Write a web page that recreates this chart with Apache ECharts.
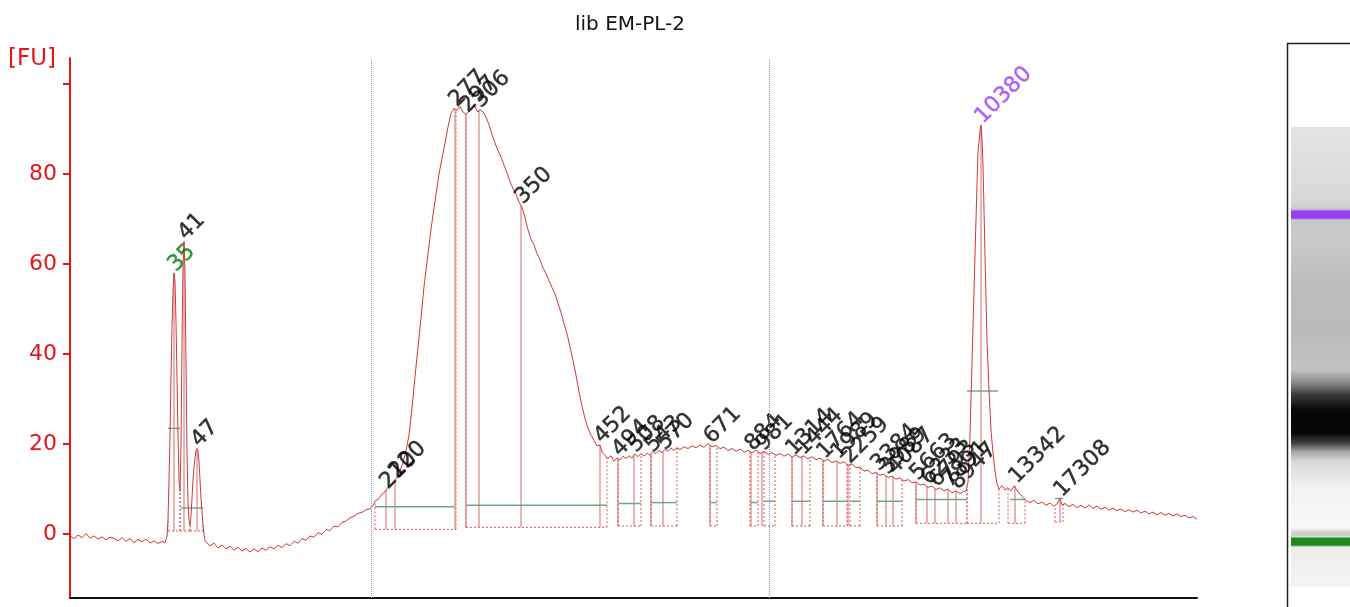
<!DOCTYPE html>
<html><head><meta charset="utf-8">
<script src="https://cdn.jsdelivr.net/npm/echarts@6/dist/echarts.min.js"></script>
<style>html,body{margin:0;padding:0;background:#fff}#c{width:1350px;height:607px}</style>
</head><body><div id="c"></div>
<script>
// ---- data (time axis in arbitrary run units, FU values) ----
const traceTime = [0,4,8,12,16,20,24,28,32,36,40,44,48,52,56,60,64,68,72,76,80,84,88,92,95,97,
98,99,100,101,102,103,104,105,106,107,108,109,110,111,112,113,114,115,116,117,118,119,120,121,122,123,124,125,126,127,128,129,130,131,132,133,134,135,137,
140,144,148,152,156,160,164,168,172,176,180,184,188,192,196,200,204,208,212,216,220,224,228,232,236,240,244,248,252,256,260,264,268,272,276,280,284,288,292,296,300,
303,306,309,312,315,318,321,324,327,330,333,336,339,342,345,348,351,354,357,360,363,366,369,372,375,378,381,384,387,390,393,396,399,402,404,406,408,410,413,416,419,422,425,428,431,434,437,440,443,446,449,452,455,458,461,464,467,470,473,476,479,482,485,488,491,494,497,500,503,506,509,512,515,518,521,524,527,530,532,535,538,541,544,547,550,553,556,559,562,565,568,571,574,577,580,583,586,589,592,595,598,601,604,607,610,
614,618,622,626,630,634,638,642,646,650,654,658,662,666,670,674,678,682,686,690,694,698,702,706,710,714,718,722,726,730,734,738,742,746,750,754,758,762,766,770,774,778,782,786,790,794,798,802,806,810,814,818,822,826,830,834,838,842,846,850,854,858,862,866,870,874,878,882,886,890,893,896,898,
900,902,904,906,908,910,911,912,913,915,917,919,921,923,925,927,929,932,935,938,941,944,946,948,951,954,957,960,964,968,972,976,980,984,987,990,992,995,999,1003,1007,1011,1015,1019,1023,1027,1031,1035,1039,1043,1047,1051,1055,1059,1063,1067,1071,1075,1079,1083,1087,1091,1095,1099,1103,1107,1111,1115,1119,1123,1127];
const traceFU = [-0.3,-1.0,-0.2,-0.8,0.1,-0.9,-0.4,-1.1,-0.6,-1.3,-0.7,-0.9,-1.5,-0.8,-1.6,-1.0,-1.9,-1.2,-1.7,-1.1,-2.0,-1.5,-2.1,-1.6,-1.9,-0.5,
3,12,22,35,46,54,58,56,47,35,22,12,9.5,20,42,60,65,58,38,18,7,3,2,4,8,12,15,17,18.5,19,18.5,16,12,8,5,2,0,-1.5,-1.2,
-2.6,-2.0,-3.1,-2.4,-3.3,-2.7,-3.6,-2.9,-3.8,-3.2,-4.0,-3.3,-3.9,-3.1,-3.6,-2.8,-3.3,-2.5,-3.0,-2.1,-2.6,-1.6,-2.0,-1.0,-1.4,-0.4,-0.7,0.3,0.0,1.0,0.8,1.8,1.6,2.6,2.9,3.6,4.0,4.6,4.8,5.4,5.6,
6.4,7.5,7.9,8.9,9.4,10.4,10.9,11.8,12.6,14.2,15.8,18.5,22,28,35,41.5,48,55,60.5,66,71,75.5,80,83.5,86.8,90.5,93.5,94.6,94.2,95.0,93.8,93.3,94.0,94.6,95.5,94.5,93.8,94.4,93.8,92.6,91.0,88.8,86.9,85.2,83.8,82.0,80.3,78.3,76.8,75.6,73.8,72.6,70.3,67.6,65.5,64.3,62.3,61.0,59.2,57.9,56.3,54.8,53.4,51.3,49.2,46.8,44.5,41.6,38.6,35.3,31.6,28.4,25.7,23.5,22.0,20.8,19.6,19.8,18.2,17.5,16.8,17.4,16.2,16.9,16.5,17.3,16.8,17.4,16.9,17.8,17.2,17.9,17.3,18.0,17.5,18.4,17.9,18.6,18.1,18.8,18.4,19.1,18.6,19.2,18.8,
19.4,19.0,19.6,19.2,19.8,19.3,20.1,19.4,19.7,19.0,19.3,18.6,19.0,18.4,18.9,18.2,18.6,18.0,18.7,17.9,18.4,17.7,18.1,17.5,17.9,17.3,17.8,17.1,17.6,17.0,17.4,16.7,17.2,16.5,16.9,16.2,16.6,15.9,16.3,15.7,16.1,15.3,15.6,14.8,14.9,14.0,14.2,13.4,13.7,13.1,13.3,12.6,12.9,12.2,12.5,11.8,12.1,11.4,11.6,10.9,11.1,10.4,10.7,9.9,10.3,9.6,10.0,9.2,9.6,9.0,9.4,9.6,11.5,
22,38,54,70,85,89.5,90.9,88,82,62,43,32,23,18,14,11.2,10.0,10.8,9.8,10.3,9.6,10.7,10.9,9.4,8.7,7.9,7.3,7.0,7.5,6.7,7.1,6.4,6.9,6.2,6.7,7.9,6.4,6.8,6.1,6.6,5.9,6.4,5.8,6.5,5.7,6.2,5.5,6.0,5.3,5.8,5.2,5.6,5.0,5.4,4.9,5.3,4.7,5.1,4.5,4.9,4.3,4.8,4.2,4.6,4.0,4.5,3.9,4.2,3.6,3.9,3.3];

const peakSize = ['35','41','47','210','220','277','297','306','350','452','494','508','543','570','671','884','981','1314','1444','1764','1989','2259','3384','3989','4087','5663','6233','6793','7891','8947','10380','13342','17308'];
const peakTime = [104,114,127,316,325,385,396,409,451,530,548,564,581,593,640,681,692,722,732,753,767,778,807,816,823,846,857,865,878,886,911,945,990];
const lowerMarker = '35';
const upperMarker = '10380';

const regionStart = [98,110,120,305,396,548,581,640,680,694,722,753,780,807,846,897,938,985];
const regionEnd   = [110,120,133,386,537,571,607,647,688,705,740,777,790,832,897,929,955,993];
const regionBase  = [0.7,0.7,0.7,1.05,1.5,1.8,1.8,1.8,1.8,1.8,1.8,1.8,1.8,1.8,2.4,2.4,2.4,2.7];

const levelStart = [98,111,305,396,548,581,640,680,694,722,753,780,807,846,897,940,985];
const levelEnd   = [110,133,385,537,571,607,647,688,705,740,777,790,832,897,928,955,993];
const levelFU    = [23.5,5.8,6.1,6.4,6.8,7.0,7.0,7.0,7.3,7.3,7.3,7.3,7.3,7.7,31.8,7.7,7.9];

const gridTimes = [301, 699];
const yLabelValues = [0,20,40,60,80];
const yTickValues = [0,20,40,60,80,100];

// ---- helpers ----
function traceAt(t){
  if (t <= traceTime[0]) return traceFU[0];
  for (let i=1;i<traceTime.length;i++){
    if (t <= traceTime[i]){
      const a=traceTime[i-1], b=traceTime[i];
      return traceFU[i-1] + (traceFU[i]-traceFU[i-1])*(t-a)/(b-a);
    }
  }
  return traceFU[traceFU.length-1];
}
function peakHeight(t){
  let m = traceAt(t);
  for (let i=0;i<traceTime.length;i++){
    if (Math.abs(traceTime[i]-t) <= 1.5) m = Math.max(m, traceFU[i]);
  }
  return m;
}
function baseFor(t){
  for (let i=0;i<regionStart.length;i++){
    if (t>=regionStart[i] && t<=regionEnd[i]) return regionBase[i];
  }
  return 1.8;
}

const FONT = 'DejaVu Sans';
const RED_AXIS = '#e8141b';
const TRACE = '#cc3a3a';

const chart = echarts.init(document.getElementById('c'), null, {renderer:'canvas'});

const gelStops = [
  [127,'#e4e4e4'],[150,'#e0e0e0'],[200,'#d8d8d8'],[208,'#cfcfcf'],[210,'#b9a6d6'],[211,'#9a3ff0'],[218,'#9a3ff0'],[220,'#c8c8c8'],
  [240,'#cacaca'],[280,'#bdbdbd'],[330,'#bababa'],[370,'#c2c2c2'],[382,'#8c8c8c'],[395,'#3a3a3a'],[410,'#080808'],[433,'#050505'],
  [443,'#404040'],[452,'#a8a8a8'],[462,'#dadada'],[490,'#f2f2f2'],[528,'#f8f8f8'],[532,'#d6d6d6'],[535,'#c8c8c8'],[537,'#e0e0e0'],
  [538,'#1e8a1e'],[545,'#1e8a1e'],[547,'#ececec'],[587,'#f4f4f4']
].map(s=>({offset:(s[0]-127)/460, color:s[1]}));

const option = {
  animation:false,
  backgroundColor:'#ffffff',
  title:{text:'lib EM-PL-2', left:625, top:10, textAlign:'center',
    textStyle:{fontFamily:FONT, fontSize:20, fontWeight:'normal', color:'#111'}},
  grid:{left:70, right:153, top:58, bottom:9, containLabel:false},
  xAxis:{type:'value', min:0, max:1127,
    axisLine:{show:true, onZero:false, lineStyle:{color:'#111', width:2}},
    axisTick:{show:false}, axisLabel:{show:false}, splitLine:{show:false}},
  yAxis:{type:'value', min:-14.2, max:105.8,
    axisLine:{show:true, onZero:false, lineStyle:{color:RED_AXIS, width:2}},
    axisTick:{show:true, length:7, lineStyle:{color:RED_AXIS, width:2}, customValues:yTickValues},
    axisLabel:{color:RED_AXIS, fontSize:22, fontFamily:FONT, margin:13, customValues:yLabelValues},
    splitLine:{show:false}},
  graphic:[
    {type:'text', left:8, top:48, style:{text:'[FU]', fill:RED_AXIS, font:'23px "DejaVu Sans"'}},
    {type:'rect', shape:{x:1291, y:127, width:59, height:460},
      style:{fill:{type:'linear', x:0, y:0, x2:0, y2:1, colorStops:gelStops}}},
    {type:'line', shape:{x1:1287.5, y1:43, x2:1287.5, y2:607}, style:{stroke:'#222', lineWidth:1.5}},
    {type:'line', shape:{x1:1287, y1:43.5, x2:1350, y2:43.5}, style:{stroke:'#222', lineWidth:1.5}}
  ],
  series:[
    {type:'custom', name:'regions', silent:true, z:1,
      data: regionStart.map((s,i)=>[s, regionEnd[i], regionBase[i]]),
      renderItem:(params, api)=>{
        const x0=api.value(0), x1=api.value(1), b=api.value(2);
        const a0=api.coord([x0,b]), t0=api.coord([x0,traceAt(x0)]);
        const a1=api.coord([x1,b]), t1=api.coord([x1,traceAt(x1)]);
        const st={stroke:'#d65a5a', lineWidth:1, lineDash:[2,2]};
        return {type:'group', children:[
          {type:'line', shape:{x1:a0[0],y1:a0[1],x2:t0[0],y2:t0[1]}, style:st},
          {type:'line', shape:{x1:a1[0],y1:a1[1],x2:t1[0],y2:t1[1]}, style:st},
          {type:'line', shape:{x1:a0[0],y1:a0[1],x2:a1[0],y2:a1[1]}, style:st}
        ]};
      }},
    {type:'custom', name:'peakLines', silent:true, z:1,
      data: peakTime.map(t=>[t]),
      renderItem:(params, api)=>{
        const t=api.value(0);
        const a=api.coord([t, baseFor(t)]), b=api.coord([t, traceAt(t)]);
        return {type:'line', shape:{x1:a[0],y1:a[1],x2:b[0],y2:b[1]},
          style:{stroke:'#d66a6a', lineWidth:1}};
      }},
    {type:'custom', name:'levels', silent:true, z:2,
      data: levelStart.map((s,i)=>[s, levelEnd[i], levelFU[i]]),
      renderItem:(params, api)=>{
        const a=api.coord([api.value(0), api.value(2)]), b=api.coord([api.value(1), api.value(2)]);
        return {type:'line', shape:{x1:a[0],y1:a[1],x2:b[0],y2:b[1]},
          style:{stroke:'#6fa597', lineWidth:1.5}};
      }},
    {type:'line', name:'trace', z:3, showSymbol:false, silent:true,
      data: traceTime.map((t,i)=>[t, traceFU[i]]),
      lineStyle:{color:TRACE, width:1},
      markLine:{silent:true, symbol:['none','none'], label:{show:false},
        lineStyle:{color:'#8d8dc8', type:'dotted', width:1},
        data: gridTimes.map(t=>({xAxis:t}))}},
    {type:'scatter', name:'peaks', z:4, silent:true, symbolSize:1,
      itemStyle:{color:'rgba(0,0,0,0)'},
      data: peakTime.map((t,i)=>{
        const c = peakSize[i]===lowerMarker ? '#0a7a0a' : (peakSize[i]===upperMarker ? '#9b3df0' : '#000');
        return {name:peakSize[i], value:[t, peakHeight(t)],
          label:{color:c, textBorderColor:c, textBorderWidth:0.4}};
      }),
      label:{show:true, formatter:p=>p.name, position:'inside', rotate:45, align:'left', verticalAlign:'bottom',
        offset:[2,6], fontSize:22, fontFamily:FONT}}
  ]
};
chart.setOption(option);
</script>
</body></html>
